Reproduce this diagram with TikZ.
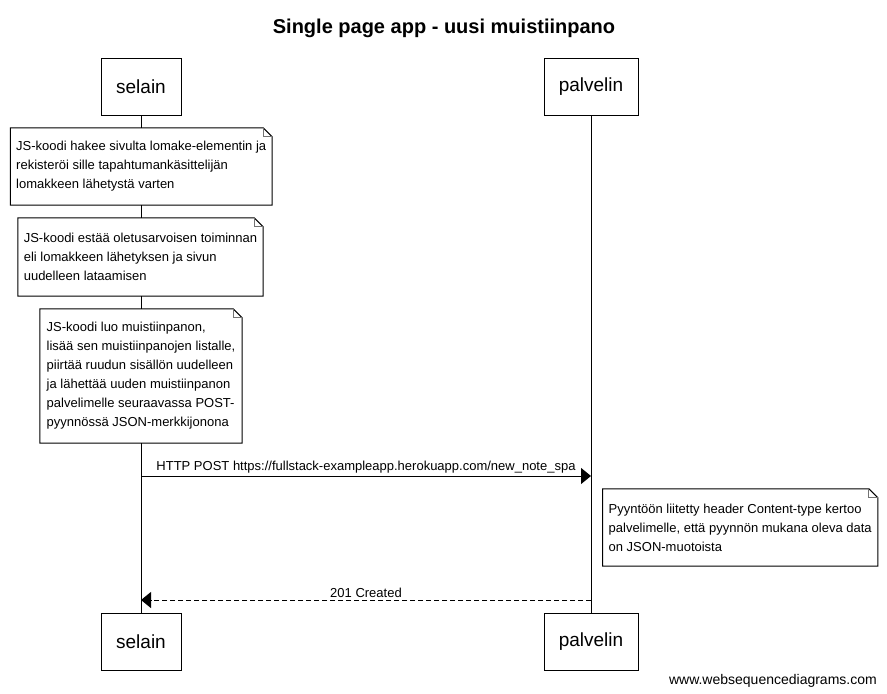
\documentclass[tikz,border=0pt]{standalone}
\usepackage{fontspec}
\setmainfont{Liberation Sans}
\usetikzlibrary{arrows.meta}
\newcommand\notefont{\fontsize{13}{19}\selectfont}
\newcommand\drawnotebox[1]{%
  \draw[line width=1pt] (#1.north west) -- ([xshift=-9pt]#1.north east) -- ([yshift=-9pt]#1.north east) -- (#1.south east) -- (#1.south west) -- cycle;
  \draw[line width=1pt, black!55] ([xshift=-9pt]#1.north east) |- ([yshift=-9pt]#1.north east);}
\begin{document}
\begin{tikzpicture}[x=1pt,y=-1pt,
  actor/.style={draw, line width=1pt, fill=white, minimum height=57pt, inner sep=0pt, font=\fontsize{19}{22}\selectfont},
  notebox/.style={fill=white, draw=none, align=left, inner sep=0pt, font=\notefont},
  lifeline/.style={line width=1pt},
  msg/.style={line width=1pt, -{Triangle[length=10pt,width=16pt]}},
  reply/.style={line width=1pt, dash pattern=on 5pt off 3pt, -{Triangle[length=10pt,width=16pt]}},
  msglabel/.style={font=\fontsize{13}{15}\selectfont, inner sep=2pt}
]
\useasboundingbox[fill=white] (0,0) rectangle (887,694);
\node[font=\bfseries\fontsize{20}{24}\selectfont, anchor=base] (title) at (444,33) {Single page app - uusi muistiinpano};

\node[actor, minimum width=80pt] (selT) at (141,86.5) {selain};
\node[actor, minimum width=94pt] (palT) at (591,86.5) {palvelin};
\node[actor, minimum width=80pt] (selB) at (141,641.5) {selain};
\node[actor, minimum width=94pt] (palB) at (591,641.5) {palvelin};

\draw[lifeline] (selT.south) -- (selB.north);
\draw[lifeline] (palT.south) -- (palB.north);

\node[notebox, minimum width=261.5pt, minimum height=77pt] (n1) at (141.25,166.5)
  {JS-koodi hakee sivulta lomake-elementin ja\\rekisteröi sille tapahtumankäsittelijän\\lomakkeen lähetystä varten};
\drawnotebox{n1}
\node[notebox, minimum width=245pt, minimum height=78pt] (n2) at (140.5,257)
  {JS-koodi estää oletusarvoisen toiminnan\\eli lomakkeen lähetyksen ja sivun\\uudelleen lataamisen};
\drawnotebox{n2}
\node[notebox, minimum width=202pt, minimum height=134pt] (n3) at (141,376)
  {JS-koodi luo muistiinpanon,\\lisää sen muistiinpanojen listalle,\\piirtää ruudun sisällön uudelleen\\ja lähettää uuden muistiinpanon\\palvelimelle seuraavassa POST-\\pyynnössä JSON-merkkijonona};
\drawnotebox{n3}

\coordinate (m1a) at (141,476);
\coordinate (m1b) at (591,476);
\draw[msg] (m1a) -- node[msglabel, above] (l1) {HTTP POST https://fullstack-exampleapp.herokuapp.com/new\_note\_spa} (m1b);

\node[notebox, minimum width=275pt, minimum height=77pt] (n4) at (740.2,527.5)
  {Pyyntöön liitetty header Content-type kertoo\\palvelimelle, että pyynnön mukana oleva data\\on JSON-muotoista};
\drawnotebox{n4}

\coordinate (m2a) at (591,600);
\coordinate (m2b) at (141,600);
\draw[reply] (m2a) -- node[msglabel, above] (l2) {201 Created} (m2b);

\node[font=\fontsize{14}{16}\selectfont, anchor=base east, inner sep=0pt] (wm) at (877,684) {www.websequencediagrams.com};
\end{tikzpicture}
\end{document}
